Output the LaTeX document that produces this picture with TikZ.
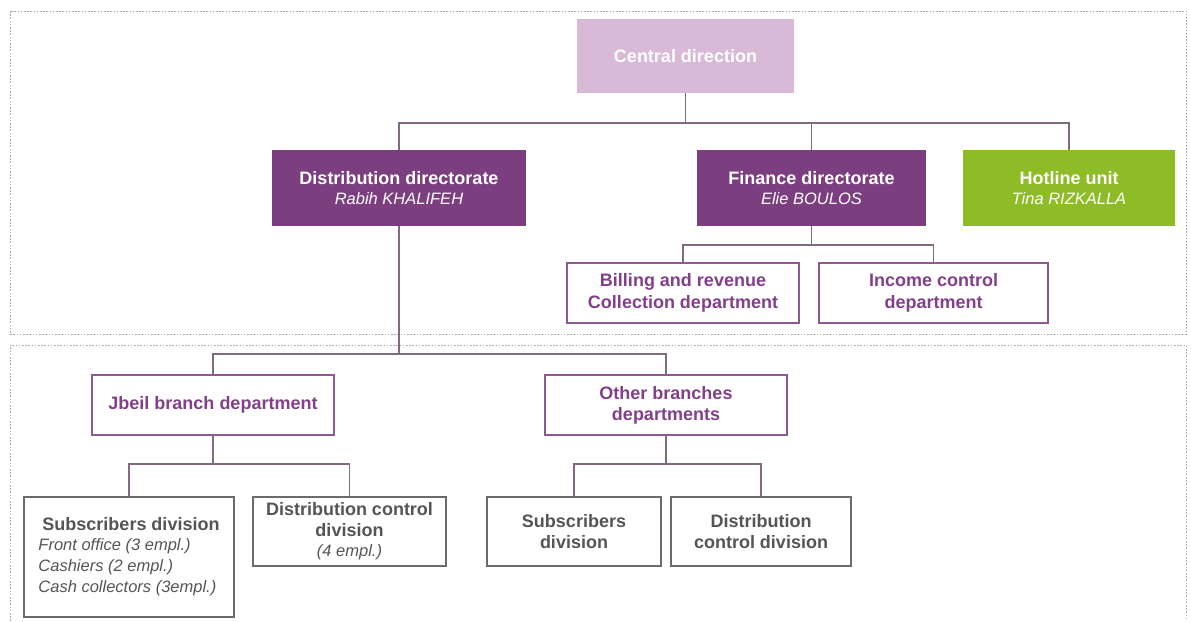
\documentclass[tikz,border=0pt]{standalone}
\usepackage{fontspec}
\setmainfont{Liberation Sans}
\definecolor{lilac}{HTML}{D8BAD8}
\definecolor{plum}{HTML}{7B3E7E}
\definecolor{lime}{HTML}{8DBC26}
\definecolor{plumtext}{HTML}{82408A}
\definecolor{plumline}{HTML}{8C5A8F}
\definecolor{connc}{HTML}{7F6A80}
\definecolor{greyline}{HTML}{6B6B6B}
\definecolor{greytext}{HTML}{555555}
\definecolor{zone}{HTML}{ABABAB}
\newcommand{\bigb}{\fontsize{18}{21}\selectfont\bfseries}
\newcommand{\subi}{\normalfont\itshape\fontsize{16.5}{20}\selectfont}
\tikzset{
  box/.style={rectangle, inner sep=0pt, align=center, font=\bigb},
  solidbox/.style={box, fill=#1, text=white},
  plumbox/.style={box, draw=plumline, line width=1.6pt, fill=white, text=plumtext},
  greybox/.style={box, draw=greyline, line width=1.6pt, fill=white, text=greytext},
  conn/.style={draw=connc, line width=1.5pt},
  zoneframe/.style={draw=zone, line width=0.8pt, dash pattern=on 1.6pt off 1.6pt},
}
\begin{document}
\begin{tikzpicture}[x=1pt, y=-1pt]
\useasboundingbox (0,0) rectangle (1191,621);

% dotted zones
\draw[zoneframe] (10,11) rectangle (1186,334);
\draw[zoneframe] (10,621) -- (10,345) -- (1186,345) -- (1186,621);

% bus levels
\coordinate (bus1) at (0,123);
\coordinate (bus2) at (0,245);
\coordinate (bus3) at (0,354);
\coordinate (bus4) at (0,464);

% top level
\node[solidbox=lilac, minimum width=217pt, minimum height=74pt] (central) at (685.5,56) {Central direction};

\node[solidbox=plum, minimum width=254pt, minimum height=76pt] (dist) at (399,188)
  {Distribution directorate\\[-1pt]{\subi Rabih KHALIFEH}};
\node[solidbox=plum, minimum width=229pt, minimum height=76pt] (fin) at (811.5,188)
  {Finance directorate\\[-1pt]{\subi Elie BOULOS}};
\node[solidbox=lime, minimum width=212pt, minimum height=76pt] (hot) at (1069,188)
  {Hotline unit\\[-1pt]{\subi Tina RIZKALLA}};

% finance departments
\node[plumbox, minimum width=232pt, minimum height=60pt] (bill) at (683,293)
  {Billing and revenue\\[1pt]Collection department};
\node[plumbox, minimum width=229pt, minimum height=60pt] (inc) at (933.5,293)
  {Income control\\[1pt]department};

% branch departments
\node[plumbox, minimum width=242pt, minimum height=60pt] (jbeil) at (213,405)
  {Jbeil branch department};
\node[plumbox, minimum width=242pt, minimum height=60pt] (other) at (666,405)
  {Other branches\\departments};

% divisions
\node[greybox, minimum width=210pt, minimum height=120pt, align=left] (subL) at (129,557)
  {\hspace*{4pt}Subscribers division\\[-1pt]{\subi Front office (3 empl.)}\\{\subi Cashiers (2 empl.)}\\{\subi Cash collectors (3empl.)}};
\node[greybox, minimum width=193pt, minimum height=69pt] (dcL) at (349.5,531.5)
  {Distribution control\\division\\[-1pt]{\subi (4 empl.)}};
\node[greybox, minimum width=174pt, minimum height=69pt] (subR) at (574,531.5)
  {Subscribers\\division};
\node[greybox, minimum width=180pt, minimum height=69pt] (dcR) at (761,531.5)
  {Distribution\\control division};

% connectors
\draw[conn] (central.south) -- (central.south |- bus1);
\draw[conn] (dist.north) |- (hot.north |- bus1) -- (hot.north);
\draw[conn] (fin.north) -- (fin.north |- bus1);

\draw[conn] (fin.south) -- (fin.south |- bus2);
\draw[conn] (bill.north) |- (inc.north |- bus2) -- (inc.north);

\draw[conn] (dist.south) -- (dist.south |- bus3);
\draw[conn] (jbeil.north) |- (other.north |- bus3) -- (other.north);

\draw[conn] (jbeil.south) -- (jbeil.south |- bus4);
\draw[conn] (subL.north) |- (dcL.north |- bus4) -- (dcL.north);

\draw[conn] (other.south) -- (other.south |- bus4);
\draw[conn] (subR.north) |- (dcR.north |- bus4) -- (dcR.north);
\end{tikzpicture}
\end{document}
